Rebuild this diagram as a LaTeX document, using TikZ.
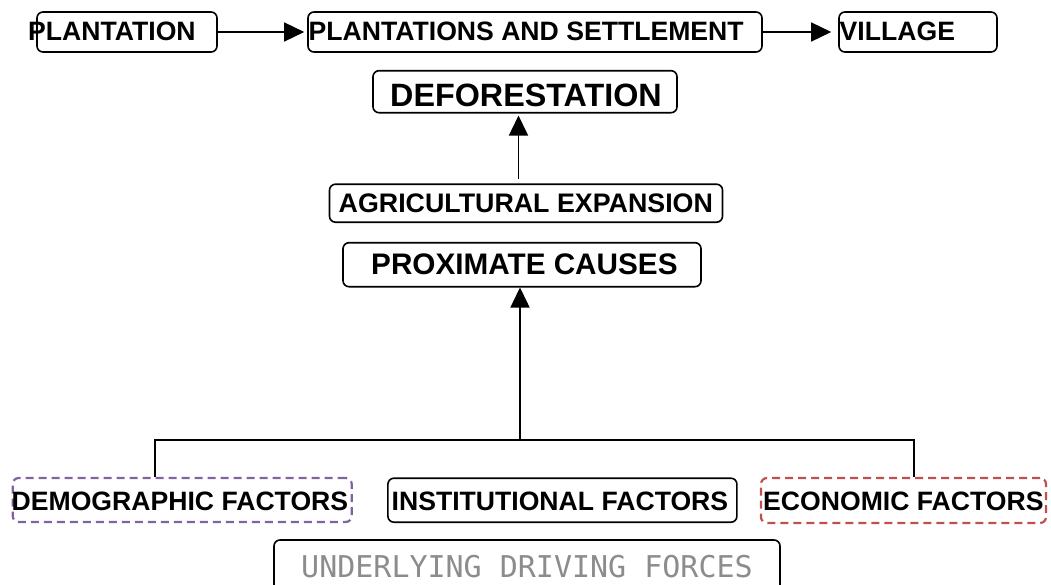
\documentclass[tikz,border=0pt]{standalone}
\usepackage{fontspec}
\setmainfont{Liberation Sans}
\newfontfamily\monofnt{DejaVu Sans Mono}
\usetikzlibrary{arrows.meta}
\definecolor{demopurple}{RGB}{128,100,162}
\definecolor{econred}{RGB}{192,80,77}

\begin{document}
\begin{tikzpicture}[x=1pt,y=-1pt,
	box/.style={draw,line width=1.6pt,rounded corners=6pt,inner sep=0pt},
	dbox/.style={box,dash pattern=on 8pt off 5pt,line width=2.2pt},
	lbl/.style={anchor=base west,inner sep=0pt,font=\bfseries\fontsize{26.6}{30}\selectfont},
	arr/.style={line width=1.5pt,-{Triangle[length=20pt,width=19pt]}}]
				\clip (0,0) rectangle (1051,584);
				% top row
				\node[box,minimum width=180pt,minimum height=40pt] (plantbox) at (127,32) {};
				\node[box,minimum width=454pt,minimum height=40pt] (settlebox) at (535,32) {};
				\node[box,minimum width=158pt,minimum height=40pt] (villagebox) at (918,32) {};
				\node[lbl] (plant) at (28,40.3) {PLANTATION};
				\node[lbl] (settle) at (308.5,40.3) {PLANTATIONS AND SETTLEMENT};
				\node[lbl] (village) at (839.5,40.3) {VILLAGE};
				\draw[arr,shorten >=3pt] (plantbox.east) -- (settlebox.west);
				\draw[arr,shorten >=7pt] (settlebox.east) -- (villagebox.west);
				% middle column
				\node[box,minimum width=304pt,minimum height=42pt] (deforbox) at (525,91.7) {};
				\node[lbl,font=\bfseries\fontsize{32.3}{36}\selectfont] (defor) at (390,106.7) {DEFORESTATION};
				\node[box,minimum width=393pt,minimum height=38pt] (agribox) at (526,203.2) {};
				\node[lbl,font=\bfseries\fontsize{26.8}{30}\selectfont] (agri) at (338.5,212.7) {AGRICULTURAL EXPANSION};
				\node[box,minimum width=358pt,minimum height=44pt] (proxbox) at (522,264.7) {};
				\node[lbl,font=\bfseries\fontsize{29.7}{34}\selectfont] (prox) at (371,274) {PROXIMATE CAUSES};
				\coordinate (upfoot) at (518.5,179.3);
				\draw[arr,shorten >=2pt] (upfoot) -- (upfoot |- deforbox.south);
				% bottom row
				\node[dbox,draw=demopurple,minimum width=339pt,minimum height=44pt] (demobox) at (182.2,500) {};
				\node[lbl] (demo) at (11.5,510) {DEMOGRAPHIC FACTORS};
				\node[box,minimum width=349pt,minimum height=44pt] (instbox) at (562.4,500.2) {};
				\node[lbl] (inst) at (391.5,510) {INSTITUTIONAL FACTORS};
				\node[dbox,draw=econred,minimum width=285pt,minimum height=45pt] (econbox) at (903.5,500.5) {};
				\node[lbl] (econ) at (763,510) {ECONOMIC FACTORS};
				\node[box,minimum width=506pt,minimum height=60pt] (underbox) at (527,570) {};
				\node[lbl,font=\monofnt\fontsize{30}{34}\selectfont,text=black!45] (under) at (301,577) {UNDERLYING DRIVING FORCES};
				% links
				\coordinate (hub) at (520,440);
				\coordinate (lj) at (155,440);
				\coordinate (rj) at (914,440);
				\draw[line width=1.5pt] (demobox.north -| lj) |- (rj) -- (econbox.north -| rj);
				\draw[arr] (hub) -- (hub |- proxbox.south);
			\end{tikzpicture}
\end{document}
